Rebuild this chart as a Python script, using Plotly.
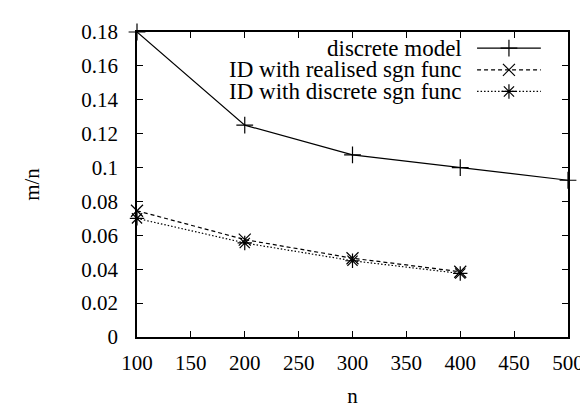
import plotly.graph_objects as go

n_model = [100, 200, 300, 400, 500]
discrete_model = [0.180, 0.125, 0.1075, 0.100, 0.0925]
n_id = [100, 200, 300, 400]
id_realised = [0.0745, 0.0575, 0.0465, 0.0385]
id_discrete = [0.0700, 0.0555, 0.0450, 0.0375]

x_ticks = [100, 150, 200, 250, 300, 350, 400, 450, 500]
y_ticks = [0, 0.02, 0.04, 0.06, 0.08, 0.1, 0.12, 0.14, 0.16, 0.18]
y_tick_text = ["0", "0.02", "0.04", "0.06", "0.08", "0.1", "0.12", "0.14", "0.16", "0.18"]

labels = ["discrete model", "ID with realised sgn func", "ID with discrete sgn func"]
series = [(n_model, discrete_model), (n_id, id_realised), (n_id, id_discrete)]
dashes = ["solid", "4px,3px", "1.5px,2px"]
symbols = ["cross-thin", "x-thin", "asterisk"]

FONT = "Times New Roman, Liberation Serif, serif"
FS = 21
FS_LEG = 23
fig = go.Figure()

for (xs, ys), d, s, lab in zip(series, dashes, symbols, labels):
    fig.add_trace(go.Scatter(
        x=xs, y=ys, mode="lines+markers", name=lab, showlegend=False,
        line=dict(color="black", width=1.2, dash=d),
        marker=dict(symbol=s, size=12, color="black",
                    line=dict(color="black", width=1.2)),
        cliponaxis=False,
    ))

# manual gnuplot-style legend (text on the left, sample on the right)
leg_y = [0.947, 0.876, 0.805]
leg_x0, leg_x1, leg_xm, leg_tx = 0.789, 0.937, 0.863, 0.756
for lab, d, s, yy in zip(labels, dashes, symbols, leg_y):
    fig.add_trace(go.Scatter(
        x=[leg_x0, leg_x1], y=[yy, yy], xaxis="x2", yaxis="y2",
        mode="lines", showlegend=False, hoverinfo="skip",
        line=dict(color="black", width=1.2, dash=d),
    ))
    fig.add_trace(go.Scatter(
        x=[leg_xm], y=[yy], xaxis="x2", yaxis="y2",
        mode="markers", showlegend=False, hoverinfo="skip",
        marker=dict(symbol=s, size=12, color="black",
                    line=dict(color="black", width=1.2)),
    ))
    fig.add_annotation(x=leg_tx, y=yy, xref="paper", yref="paper",
                       text=lab, showarrow=False, xanchor="right",
                       yanchor="middle", borderpad=0,
                       font=dict(family=FONT, size=FS_LEG, color="black"))

axis_common = dict(
    showgrid=False, zeroline=False, showline=True, linecolor="black",
    linewidth=1.5, mirror="ticks", ticks="inside", ticklen=6,
    tickcolor="black", tickwidth=1.2,
    tickfont=dict(family=FONT, size=FS, color="black"),
)

fig.update_layout(
    width=588, height=408,
    margin=dict(l=129, r=28, t=15, b=70),
    paper_bgcolor="white", plot_bgcolor="white",
    font=dict(family=FONT, size=FS, color="black"),
    xaxis=dict(range=[100, 500], tickvals=x_ticks, ticklabelstandoff=6,
               title=dict(text="n", font=dict(family=FONT, size=FS, color="black"), standoff=14),
               **axis_common),
    yaxis=dict(range=[0, 0.18], tickvals=y_ticks, ticktext=y_tick_text, ticklabelstandoff=13,
               title=dict(text="m/n", font=dict(family=FONT, size=FS, color="black"), standoff=36),
               **axis_common),
    xaxis2=dict(range=[0, 1], overlaying="x", visible=False, fixedrange=True),
    yaxis2=dict(range=[0, 1], overlaying="y", visible=False, fixedrange=True),
    showlegend=False,
)

fig.write_html("out.html")
